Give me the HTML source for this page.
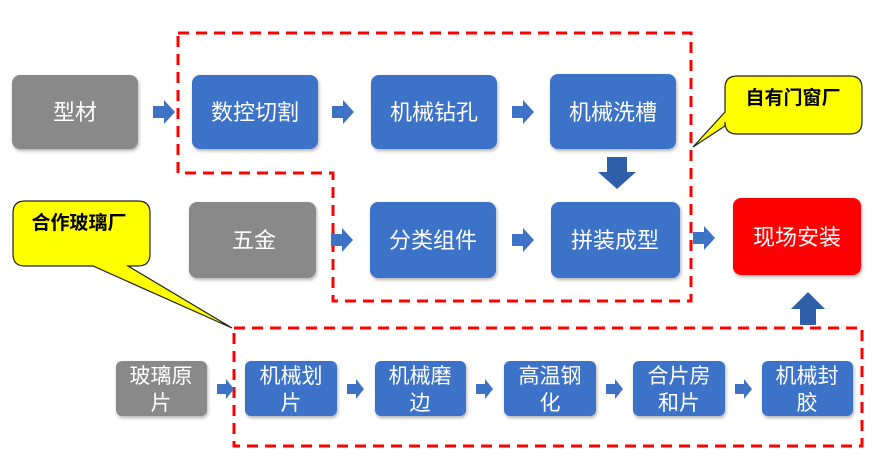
<!DOCTYPE html>
<html><head><meta charset="utf-8"><style>
body{margin:0;background:#fff}
text{font-family:"Liberation Sans","Noto Sans CJK SC",sans-serif}
</style></head><body>
<svg width="876" height="461" viewBox="0 0 876 461" xmlns="http://www.w3.org/2000/svg">
<defs>
<filter id="s" x="-10%" y="-10%" width="130%" height="130%"><feDropShadow dx="1" dy="2" stdDeviation="1.5" flood-color="#000" flood-opacity="0.3"/></filter>
<g id="ra"><path d="M0,-6 H11 V-12 L22,0 L11,12 V6 H0 Z" fill="#3d72c4"/></g>
<g id="rs"><path d="M0,-5 H9 V-10 L17,0 L9,10 V5 H0 Z" fill="#3d72c4"/></g>
</defs>
<path d="M178,33 H691 V301 H333 V173 H178 Z" fill="none" stroke="#f00" stroke-width="3" stroke-dasharray="11,7"/>
<rect x="234" y="328" width="628" height="118" fill="none" stroke="#f00" stroke-width="3" stroke-dasharray="11,7"/>
<g filter="url(#s)">
<rect x="12" y="75" width="126" height="74" rx="8" fill="#898989"/>
<rect x="192" y="75" width="126" height="74" rx="8" fill="#3d72c9"/>
<rect x="371" y="75" width="126" height="74" rx="8" fill="#3d72c9"/>
<rect x="550" y="74" width="126" height="75" rx="8" fill="#3d72c9"/>
<rect x="189" y="202" width="127" height="76" rx="8" fill="#898989"/>
<rect x="370" y="202" width="126" height="76" rx="8" fill="#3d72c9"/>
<rect x="551" y="202" width="129" height="76" rx="8" fill="#3d72c9"/>
<rect x="733" y="198" width="128" height="77" rx="8" fill="#ff0505"/>
<rect x="116" y="361" width="91" height="55" rx="6" fill="#898989"/>
<rect x="245" y="361" width="92" height="55" rx="6" fill="#3d72c9"/>
<rect x="375" y="361" width="91" height="55" rx="6" fill="#3d72c9"/>
<rect x="504" y="361" width="92" height="55" rx="6" fill="#3d72c9"/>
<rect x="633" y="361" width="92" height="55" rx="6" fill="#3d72c9"/>
<rect x="762" y="361" width="91" height="55" rx="6" fill="#3d72c9"/>
</g>
<g fill="#fff" font-size="22" text-anchor="middle">
<text x="75" y="120">型材</text>
<text x="255" y="120">数控切割</text>
<text x="434" y="120">机械钻孔</text>
<text x="613" y="120">机械洗槽</text>
<text x="254" y="248">五金</text>
<text x="433" y="248">分类组件</text>
<text x="615" y="248">拼装成型</text>
<text x="797" y="245">现场安装</text>
</g>
<g fill="#fff" font-size="21" text-anchor="middle">
<text x="161" y="383">玻璃原</text><text x="161" y="410">片</text>
<text x="291" y="383">机械划</text><text x="291" y="410">片</text>
<text x="420" y="383">机械磨</text><text x="420" y="410">边</text>
<text x="550" y="383">高温钢</text><text x="550" y="410">化</text>
<text x="679" y="383">合片房</text><text x="679" y="410">和片</text>
<text x="807" y="383">机械封</text><text x="807" y="410">胶</text>
</g>
<use href="#ra" x="153" y="112"/>
<use href="#ra" x="332" y="112"/>
<use href="#ra" x="512" y="112"/>
<use href="#ra" x="331" y="240"/>
<use href="#ra" x="512" y="240"/>
<use href="#ra" x="693" y="238"/>
<use href="#rs" x="217" y="389"/>
<use href="#rs" x="347" y="389"/>
<use href="#rs" x="476" y="389"/>
<use href="#rs" x="606" y="389"/>
<use href="#rs" x="735" y="389"/>
<path d="M607,157 H627 V172 H636 L617,189 L598,172 H607 Z" fill="#2f5fa8"/>
<path d="M800,325 H816 V309 H825 L808,292 L791,309 H800 Z" fill="#2f5fa8"/>
<path d="M25,201 H138 Q150,201 150,213 V254 Q150,266 138,266 H128 L232,328 L93,266 H25 Q13,266 13,254 V213 Q13,201 25,201 Z" fill="#ff0" stroke="#222" stroke-width="1.2"/>
<text x="79" y="229" font-size="19" font-weight="bold" text-anchor="middle" fill="#000">合作玻璃厂</text>
<path d="M737,76 H850 Q862,76 862,88 V122 Q862,134 850,134 H737 Q725,134 725,122 V126 L693,147 L725,112 V88 Q725,76 737,76 Z" fill="#ff0" stroke="#222" stroke-width="1.2"/>
<text x="793" y="104" font-size="19" font-weight="bold" text-anchor="middle" fill="#000">自有门窗厂</text>
</svg>
</body></html>
